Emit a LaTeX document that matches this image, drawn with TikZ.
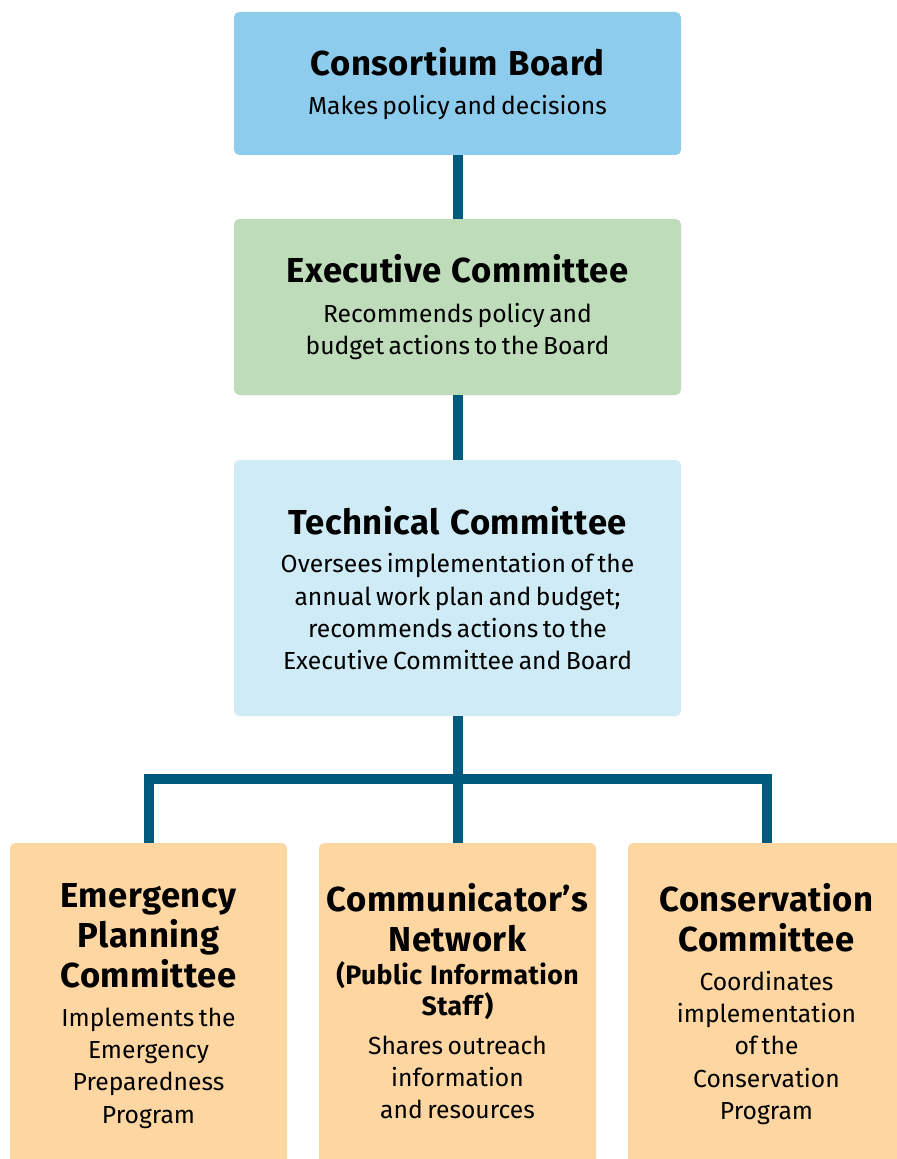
\documentclass[tikz,border=0pt]{standalone}
\usepackage{fontspec}
\setmainfont{Fira Sans}[WordSpace=1.3, BoldFeatures={LetterSpace=1.5}]
\definecolor{boardc}{HTML}{8DCCEC}
\definecolor{execc}{HTML}{BEDCBA}
\definecolor{techc}{HTML}{CFEBF6}
\definecolor{subc}{HTML}{FDD6A1}
\definecolor{linkc}{HTML}{005A7E}
\newcommand\ttlf{\fontsize{26}{30}\selectfont\bfseries\spaceskip=0.3em\relax}
\newcommand\bdyf{\fontsize{18.5}{24.2}\selectfont\mdseries}
\newcommand\parf{\fontsize{20}{23.25}\selectfont\bfseries\spaceskip=0.3em\relax}
\begin{document}
\begin{tikzpicture}[x=0.75pt,y=-0.75pt,
  box/.style={rounded corners=4pt, inner sep=0pt, align=center, text=black},
  topbox/.style={box, minimum width=335.25pt, text width=330pt},
  subbox/.style={box, fill=subc, minimum width=207.75pt, minimum height=249pt},
  txt/.style={align=center, inner sep=0pt, text=black, text width=205pt, anchor=north},
  link/.style={draw=linkc, line width=7.5pt, line join=miter}]
\useasboundingbox (0,0) rectangle (896,1159);
\fill[white] (0,0) rectangle (896,1159);
% top boxes
\node[topbox, fill=boardc, minimum height=107.25pt] (board) at (457.5,83.5)
  {{\ttlf Consortium Board\par}\vspace{4.5pt}{\bdyf Makes policy and decisions\par}};
\node[topbox, fill=execc, minimum height=132pt] (exec) at (457.5,307)
  {{\ttlf Executive Committee\par}\vspace{6pt}{\bdyf Recommends policy and\\ budget actions to the Board\par}};
\node[topbox, fill=techc, minimum height=192pt] (tech) at (457.5,588)
  {{\ttlf Technical Committee\par}\vspace{5pt}{\bdyf Oversees implementation of the\\ annual work plan and budget;\\ recommends actions to the\\ Executive Committee and Board\par}};
% bottom boxes
\node[subbox] (epcbox) at (148.5,1009) {};
\node[subbox] (netbox) at (457.5,1009) {};
\node[subbox] (cnsbox) at (766.5,1009) {};
\node[txt] (epc) at (148.5,883)
  {{\ttlf Emergency\\ Planning\\ Committee\par}\vspace{5pt}{\bdyf Implements the\\ Emergency\\ Preparedness\\ Program\par}};
\node[txt] (net) at (457.5,883)
  {{\ttlf Communicator’s\\ Network\par}\vspace{1.5pt}{\parf (Public Information\\ Staff)\par}\vspace{5pt}{\bdyf Shares outreach\\ information\\ and resources\par}};
\node[txt] (cns) at (766.5,883)
  {{\ttlf Conservation\\ Committee\par}\vspace{5pt}{\bdyf Coordinates\\ implementation\\ of the\\ Conservation\\ Program\par}};
% connectors
\draw[link] (board.south) -- (exec.north);
\draw[link] (exec.south) -- (tech.north);
\draw[link] (tech.south) -- (netbox.north);
\draw[link] (epcbox.north) -- ++(0,-64) -| (cnsbox.north);
\end{tikzpicture}
\end{document}
